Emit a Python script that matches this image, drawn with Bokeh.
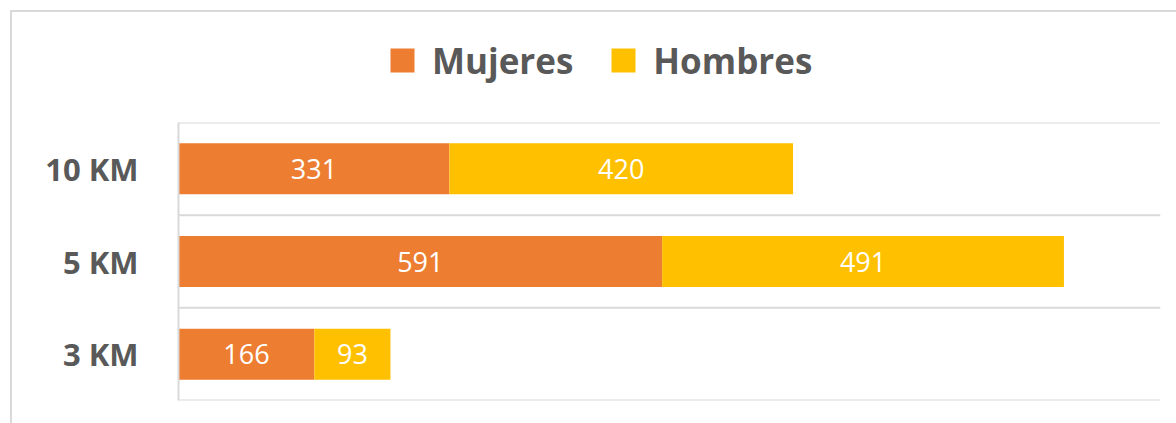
from bokeh.plotting import figure
from bokeh.layouts import column
from bokeh.models import (ColumnDataSource, FactorRange, Range1d, LabelSet, Legend,
                          LegendItem, Span)
from bokeh.core.properties import value
from bokeh.embed import file_html
from bokeh.resources import INLINE

categories = ["3 KM", "5 KM", "10 KM"]
mujeres = [166, 591, 331]
hombres = [93, 491, 420]
series_names = ["Mujeres", "Hombres"]
colors = ["#ED7D31", "#FFC000"]

FONT = "Open Sans"
GRAY = "#595959"
LINE = "#d9d9d9"

src = ColumnDataSource(dict(cat=categories, Mujeres=mujeres, Hombres=hombres))

# ---- main chart ----
p = figure(width=1164, height=311, output_backend="svg", toolbar_location=None,
           y_range=FactorRange(factors=categories, range_padding=0),
           x_range=Range1d(0, 1200),
           min_border_left=166, min_border_right=16, min_border_top=10, min_border_bottom=23)
p.outline_line_color = None
p.background_fill_color = "white"
p.border_fill_color = "white"

rs = p.hbar_stack(series_names, y="cat", height=0.55, color=colors, source=src,
                  line_color=None)

# data labels
lab_src = ColumnDataSource(dict(
    x=[m / 2 for m in mujeres] + [m + h / 2 for m, h in zip(mujeres, hombres)],
    y=categories + categories,
    t=[str(v) for v in mujeres] + [str(v) for v in hombres],
))
p.add_layout(LabelSet(x="x", y="y", text="t", source=lab_src, text_align="center",
                      text_baseline="middle", text_color="white",
                      text_font=value(FONT), text_font_size="27px"))

p.xaxis.visible = False
p.xgrid.visible = False
p.ygrid.visible = False
ax = p.yaxis[0]
ax.axis_line_color = LINE
ax.axis_line_width = 2
ax.major_tick_line_color = None
ax.minor_tick_line_color = None
ax.major_tick_out = 0
ax.major_tick_in = 0
ax.major_label_standoff = 40
ax.major_label_text_font = FONT
ax.major_label_text_font_style = "bold"
ax.major_label_text_font_size = "31px"
ax.major_label_text_color = GRAY

for loc in [0, 1, 2, 3]:
    p.add_layout(Span(location=loc, dimension="width", line_color=LINE, line_width=2))

# ---- legend strip: square markers of zero size, only their legend swatches show ----
pl = figure(width=1164, height=100, output_backend="svg", toolbar_location=None,
            x_range=Range1d(0, 1200), y_range=FactorRange(factors=categories),
            x_axis_location=None, y_axis_location=None,
            min_border_left=0, min_border_right=0, min_border_top=0, min_border_bottom=0)
pl.outline_line_color = None
pl.xgrid.visible = False
pl.ygrid.visible = False
leg_rs = [pl.scatter(x=name, y="cat", size=0, marker="square", fill_color=c,
                     line_color=None, source=src)
          for name, c in zip(series_names, colors)]

legend = Legend(items=[LegendItem(label=n, renderers=[r]) for n, r in zip(series_names, leg_rs)],
                orientation="horizontal", location=(194, 22),
                glyph_width=60, glyph_height=60, label_standoff=0, spacing=20,
                padding=0, margin=0, border_line_color=None, background_fill_alpha=0,
                label_text_font=FONT, label_text_font_style="bold",
                label_text_font_size="35px", label_text_color=GRAY)
pl.add_layout(legend, "center")

page = column(pl, p, spacing=0,
              styles={"border-left": "2px solid #d9d9d9", "border-top": "2px solid #d9d9d9",
                      "margin-left": "10px", "margin-top": "10px"})

open("out.html", "w").write(file_html(page, INLINE))
